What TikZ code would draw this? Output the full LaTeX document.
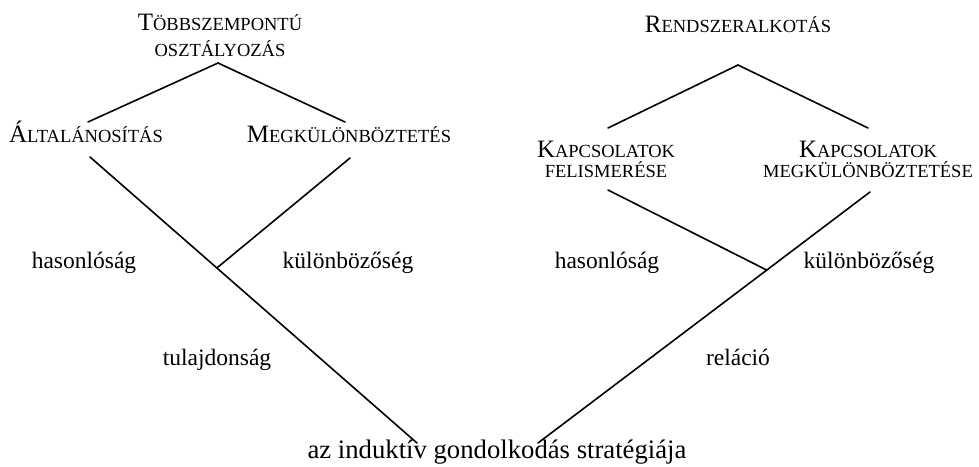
\documentclass[tikz,border=0pt]{standalone}
\usepackage{fontspec}
\setmainfont{Liberation Serif}
\usetikzlibrary{calc}
\newcommand\smc[1]{{\fontsize{18.5}{20}\selectfont #1}}
\tikzset{
  cat/.style={inner sep=0pt, align=center, font=\fontsize{25}{26}\selectfont},
  cattwo/.style={cat, font=\fontsize{25}{20}\selectfont},
  lbl/.style={inner sep=0pt, anchor=base, font=\fontsize{23.5}{26}\selectfont},
  bottom/.style={inner sep=0pt, anchor=base, font=\fontsize{26.7}{28}\selectfont},
  conn/.style={line width=1.6pt, line cap=round},
}
\begin{document}
\begin{tikzpicture}[x=1pt,y=-1pt]
\useasboundingbox (0,0) rectangle (979,466);
% left tree
\node[cat, anchor=south] (tsz) at (220,57) {T\smc{ÖBBSZEMPONTÚ}\\[0pt]\smc{OSZTÁLYOZÁS}};
\node[cat, anchor=base] (alt) at (86,142) {Á\smc{LTALÁNOSÍTÁS}};
\node[cat, anchor=base] (meg) at (349,142) {M\smc{EGKÜLÖNBÖZTETÉS}};
% right tree
\node[cat, anchor=base] (rend) at (738,32) {R\smc{ENDSZERALKOTÁS}};
\node[cattwo, anchor=south] (kf) at (606,178) {K\smc{APCSOLATOK}\\\smc{FELISMERÉSE}};
\node[cattwo, anchor=south] (km) at (868,178) {K\smc{APCSOLATOK}\\\smc{MEGKÜLÖNBÖZTETÉSE}};
% labels
\node[lbl] (hasL) at (84,268) {hasonlóság};
\node[lbl] (kulL) at (348,268) {különbözőség};
\node[lbl] (tul) at (217,365) {tulajdonság};
\node[lbl] (hasR) at (607,268) {hasonlóság};
\node[lbl] (kulR) at (869,268) {különbözőség};
\node[lbl] (rel) at (738,365) {reláció};
\node[bottom] (ind) at (497,458) {az induktív gondolkodás stratégiája};
% connector ends
\coordinate (tszTip) at ([shift={(-2,6)}]tsz.south);
\coordinate (rendTip) at ([shift={(0,33)}]rend.base);
\coordinate (altTop) at ([shift={(2,-20)}]alt.base);
\coordinate (megTop) at ([shift={(-4,-20)}]meg.base);
\coordinate (altBot) at ([shift={(4,15)}]alt.base);
\coordinate (megBot) at ([shift={(1,16)}]meg.base);
\coordinate (kfTop) at ([shift={(2,-50)}]kf.south);
\coordinate (kmTop) at ([shift={(0,-50)}]km.south);
\coordinate (kfBot) at ([shift={(2,12)}]kf.south);
\coordinate (kmBot) at ([shift={(2,14)}]km.south);
\coordinate (indL) at ([shift={(-80,-15)}]ind.base);
\coordinate (indR) at ([shift={(41,-15)}]ind.base);
\coordinate (jL) at ($(altBot)!0.388!(indL)$);
\coordinate (jR) at ($(kmBot)!0.311!(indR)$);
% connectors
\draw[conn] (altTop) -- (tszTip) -- (megTop);
\draw[conn] (altBot) -- (indL);
\draw[conn] (megBot) -- (jL);
\draw[conn] (kfTop) -- (rendTip) -- (kmTop);
\draw[conn] (kmBot) -- (indR);
\draw[conn] (kfBot) -- (jR);
\end{tikzpicture}
\end{document}
